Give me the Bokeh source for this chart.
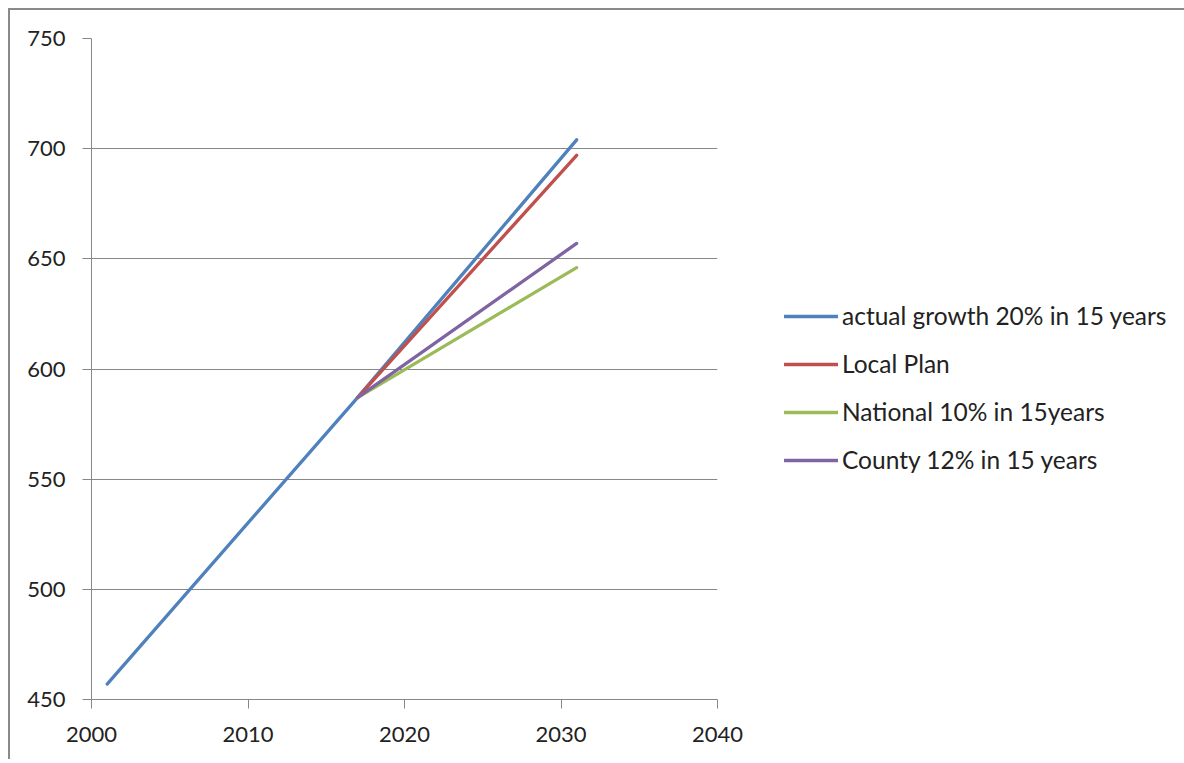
from bokeh.plotting import figure
from bokeh.models import FixedTicker, Range1d, Legend, LegendItem
from bokeh.embed import file_html
from bokeh.resources import INLINE

# Data
actual_years = [2001, 2017, 2031]
actual_vals = [457, 587, 704]
local_years = [2017, 2031]
local_vals = [587, 697]
national_years = [2017, 2031]
national_vals = [587, 646]
county_years = [2017, 2031]
county_vals = [587, 657]

series_names = ["actual growth 20% in 15 years", "Local Plan",
                "National 10% in 15years", "County 12% in 15 years"]
colors = ["#4F81BD", "#C0504D", "#9BBB59", "#8064A2"]
x_ticks = [2000, 2010, 2020, 2030, 2040]
y_ticks = [450, 500, 550, 600, 650, 700, 750]

FONT = "Lato"
GRAY = "#878787"

p = figure(frame_width=626, frame_height=661, output_backend="svg",
           toolbar_location=None,
           x_range=Range1d(2000, 2040), y_range=Range1d(450, 750),
           min_border_left=81, min_border_top=28,
           min_border_right=460, min_border_bottom=60)
p.styles = {"border-left": "2px solid #8a8a8a", "border-top": "2px solid #8a8a8a",
            "margin-left": "8px", "margin-top": "8px"}
p.outline_line_color = None
p.background_fill_color = "white"
p.border_fill_color = "white"

r1 = p.line(actual_years, actual_vals, line_color=colors[0], line_width=3.3, line_cap="round")
r2 = p.line(local_years, local_vals, line_color=colors[1], line_width=3.3, line_cap="round")
r3 = p.line(national_years, national_vals, line_color=colors[2], line_width=3.3, line_cap="round")
r4 = p.line(county_years, county_vals, line_color=colors[3], line_width=3.3, line_cap="round")

p.xaxis.ticker = FixedTicker(ticks=x_ticks)
p.yaxis.ticker = FixedTicker(ticks=y_ticks)
for ax in (p.xaxis[0], p.yaxis[0]):
    ax.axis_line_color = GRAY
    ax.major_tick_line_color = GRAY
    ax.major_tick_out = 9
    ax.major_tick_in = 0
    ax.minor_tick_line_color = None
    ax.major_label_text_font = FONT
    ax.major_label_text_font_size = "22px"
    ax.major_label_text_color = "#222222"
p.yaxis.major_label_standoff = 17
p.xaxis.major_label_standoff = 18

p.xgrid.grid_line_color = None
p.ygrid.grid_line_color = GRAY
p.ygrid.ticker = FixedTicker(ticks=y_ticks)

legend = Legend(items=[LegendItem(label=series_names[0], renderers=[r1]),
                       LegendItem(label=series_names[1], renderers=[r2]),
                       LegendItem(label=series_names[2], renderers=[r3]),
                       LegendItem(label=series_names[3], renderers=[r4])],
                location=(67, 225))
legend.border_line_color = None
legend.background_fill_alpha = 0
legend.label_text_font = FONT
legend.label_text_font_size = "24.5px"
legend.label_text_color = "#222222"
legend.glyph_width = 54
legend.glyph_height = 26
legend.label_height = 26
legend.label_standoff = 4
legend.spacing = 19
legend.padding = 0
legend.margin = 0
p.add_layout(legend, "right")

open("out.html", "w").write(file_html(p, INLINE))
